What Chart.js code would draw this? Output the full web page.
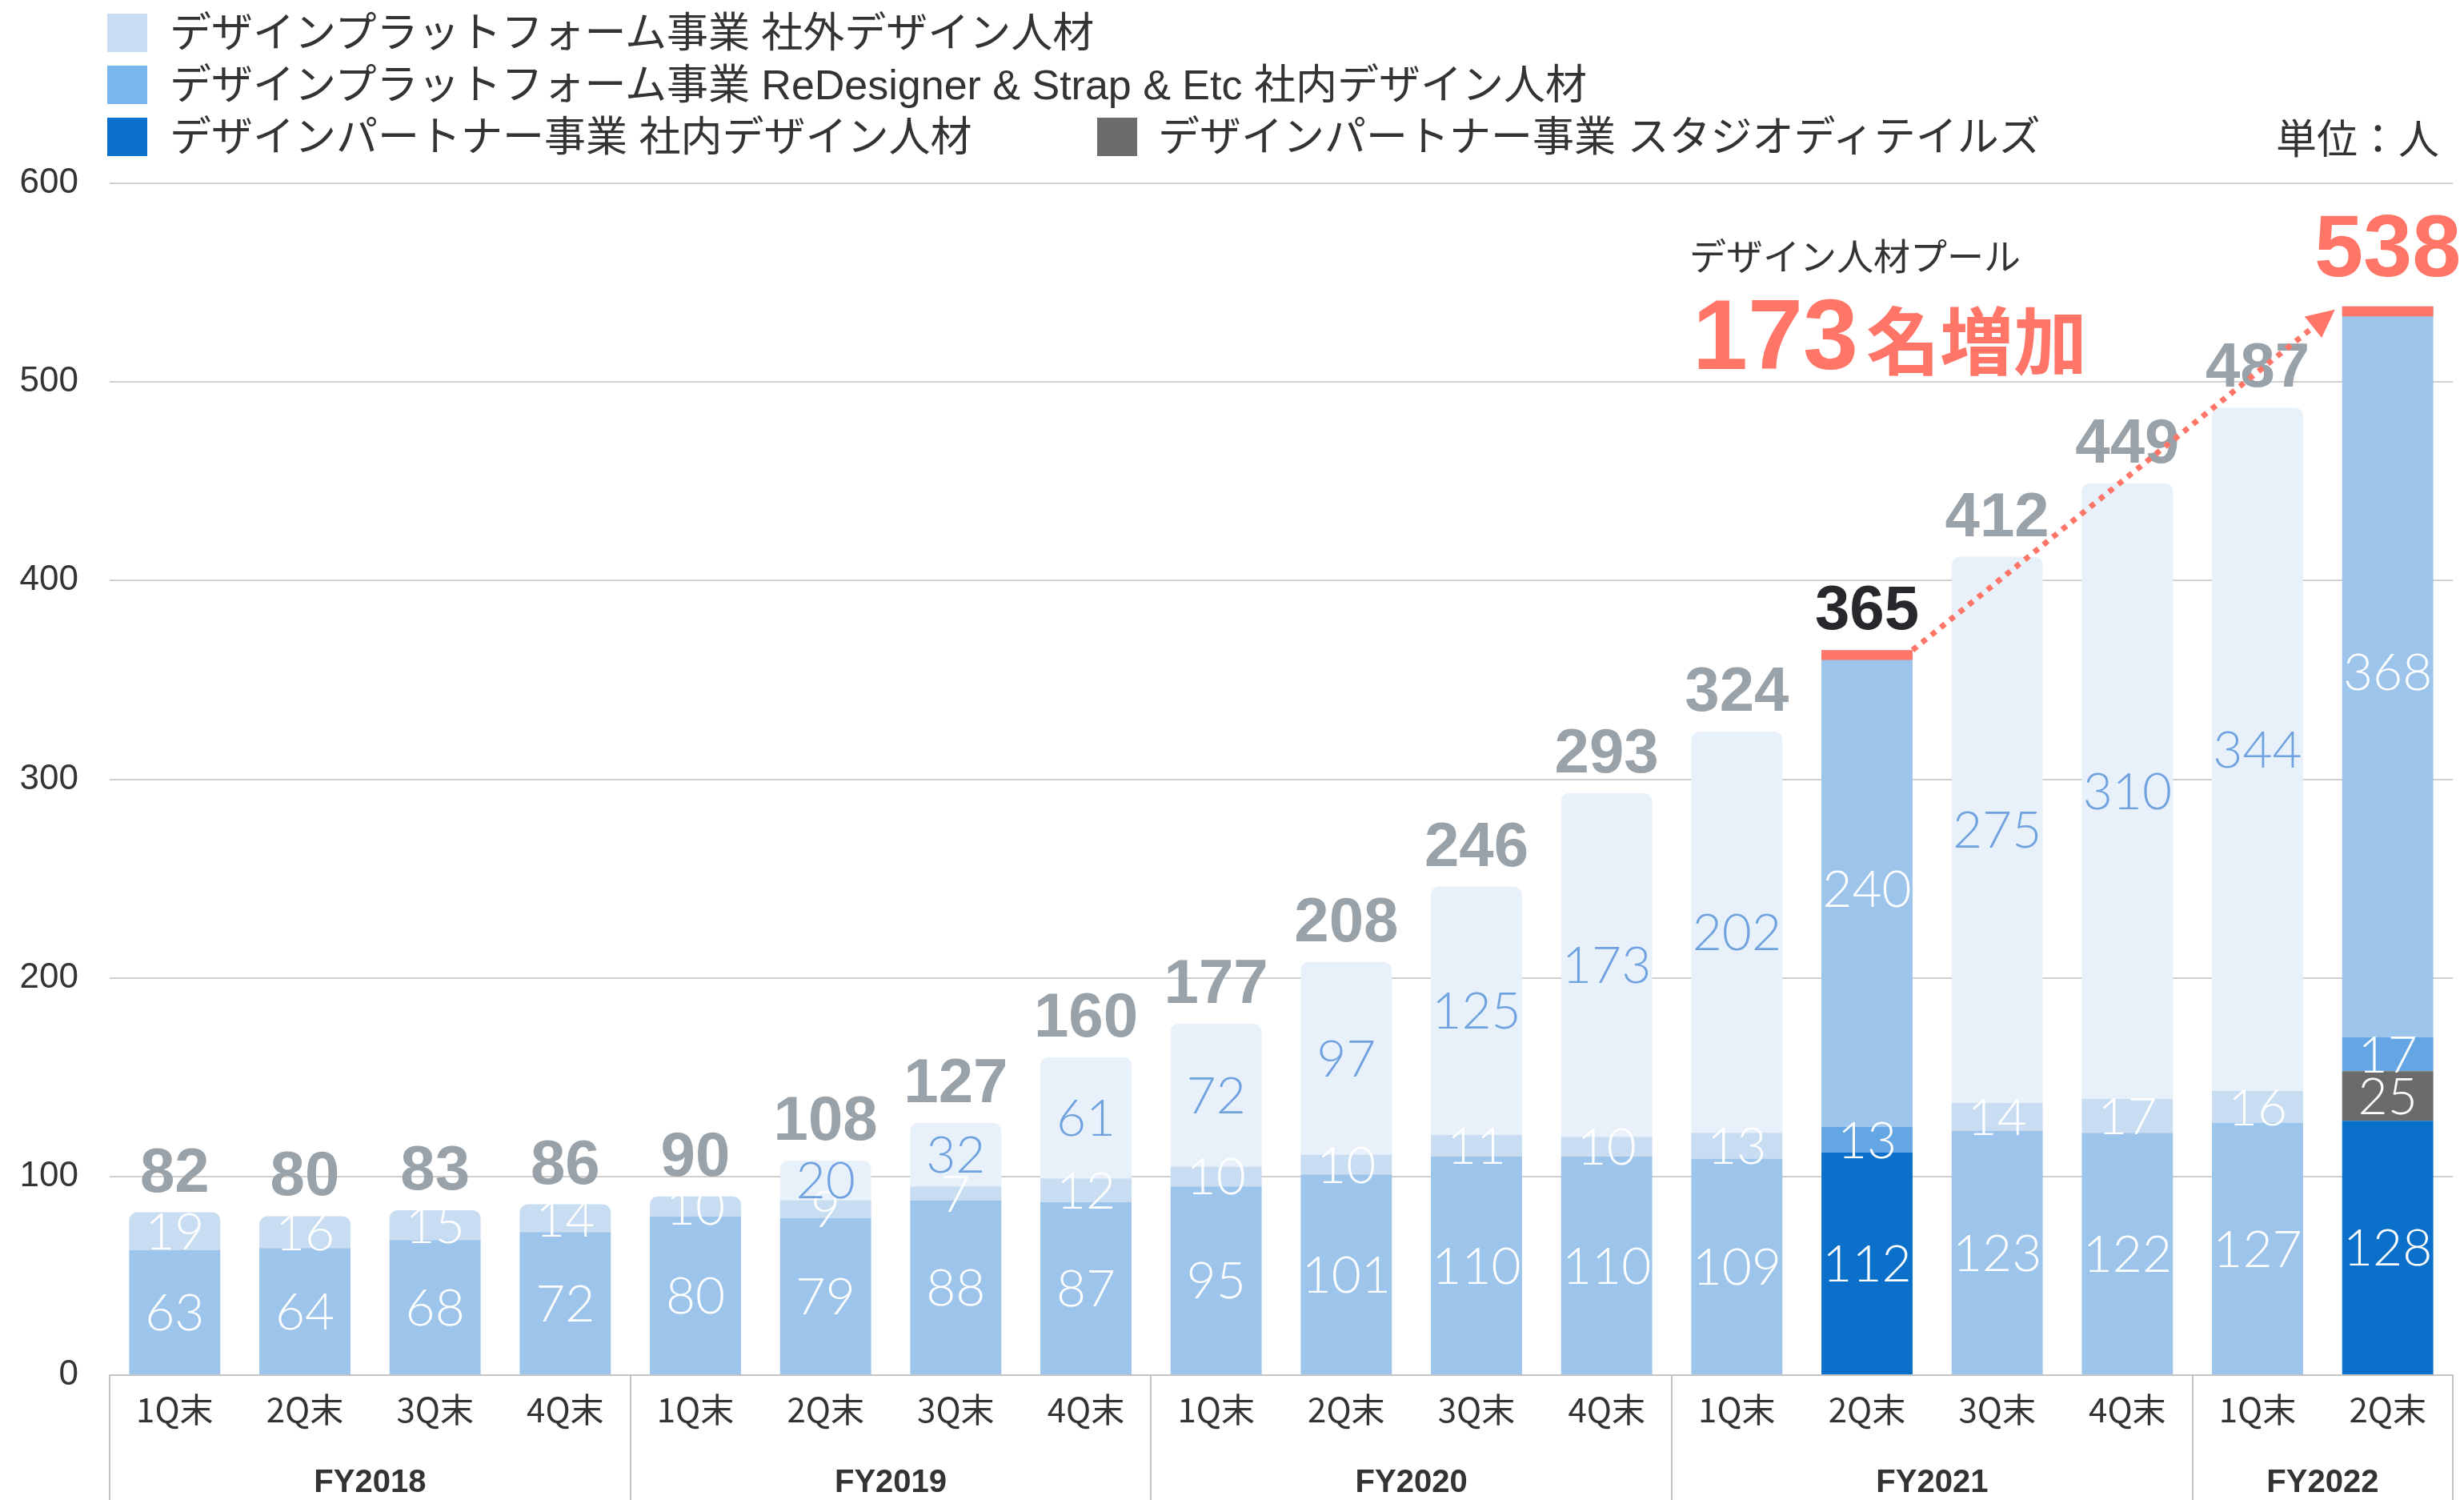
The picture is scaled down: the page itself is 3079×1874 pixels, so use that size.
<!DOCTYPE html>
<html>
<head>
<meta charset="utf-8">
<script src="https://cdn.jsdelivr.net/npm/chart.js@4.4.1/dist/chart.umd.min.js"></script>
<style>
html,body{margin:0;padding:0;background:#fff;}
#wrap{position:relative;width:3079px;height:1874px;overflow:hidden;font-family:"Noto Sans CJK JP","Noto Sans",sans-serif;color:#333;}
#wrap canvas{position:absolute;left:0;top:0;}
.lg{position:absolute;display:flex;align-items:center;height:48px;font-size:52px;line-height:1;white-space:nowrap;color:#333;font-family:"Liberation Sans","Noto Sans CJK JP",sans-serif;}
.lg span{font-family:"Liberation Sans","Noto Sans CJK JP",sans-serif;}
.sw{width:50px;height:48px;margin-right:28px;flex:none;}
#unit{position:absolute;right:31px;top:146px;height:48px;display:flex;align-items:center;font-size:51px;line-height:1;color:#333;}
#poolTitle{position:absolute;left:2111px;top:294px;font-size:46px;line-height:1;color:#333;white-space:nowrap;}
#poolInc{position:absolute;left:2115px;top:356px;display:flex;align-items:baseline;line-height:1;color:#ff7668;white-space:nowrap;}
#poolInc .num{font-family:"Liberation Sans",Arial,sans-serif;font-weight:bold;font-size:124px;}
#poolInc .txt{font-family:"Noto Sans CJK JP",sans-serif;font-weight:bold;font-size:92px;margin-left:10px;}
</style>
</head>
<body>
<div id="wrap">
  <canvas id="c" width="3079" height="1874"></canvas>
  <div class="lg" style="left:134px;top:17px;"><div class="sw" style="background:#c8ddf1"></div><span>デザインプラットフォーム事業 社外デザイン人材</span></div>
  <div class="lg" style="left:134px;top:82px;"><div class="sw" style="background:#7ab6ee"></div><span>デザインプラットフォーム事業 ReDesigner &amp; Strap &amp; Etc 社内デザイン人材</span></div>
  <div class="lg" style="left:134px;top:147px;"><div class="sw" style="background:#0a70c9"></div><span>デザインパートナー事業 社内デザイン人材</span></div>
  <div class="lg" style="left:1371px;top:147px;"><div class="sw" style="background:#6b6b6b;margin-right:26px"></div><span>デザインパートナー事業 スタジオディテイルズ</span></div>
  <div id="unit">単位：人</div>
  <div id="poolTitle">デザイン人材プール</div>
  <div id="poolInc"><span class="num">173</span><span class="txt">名増加</span></div>
</div>
<script>
// ---- data ----
const categories = ['1Q末','2Q末','3Q末','4Q末','1Q末','2Q末','3Q末','4Q末','1Q末','2Q末','3Q末','4Q末','1Q末','2Q末','3Q末','4Q末','1Q末','2Q末'];
const fiscalYears = ['FY2018','FY2019','FY2020','FY2021','FY2022'];
const quartersPerYear = [4,4,4,4,2];
const partnerInHouse   = [63,64,68,72,80,79,88,87,95,101,110,110,109,112,123,122,127,128];
const studioDetails    = [null,null,null,null,null,null,null,null,null,null,null,null,null,null,null,null,null,25];
const platformInHouse  = [19,16,15,14,10,9,7,12,10,10,11,10,13,13,14,17,16,17];
const platformExternal = [null,null,null,null,null,20,32,61,72,97,125,173,202,240,275,310,344,368];
const totals           = [82,80,83,86,90,108,127,160,177,208,246,293,324,365,412,449,487,538];
const compareFrom = 13;   // 2Q末 FY2021
const compareTo = 17;     // 2Q末 FY2022
const capDepth = 5;

const isHi = i => i === compareFrom || i === compareTo;
const capBars = totals.map((t, i) => isHi(i) ? [t - capDepth, t] : null);

const segSets = [partnerInHouse, studioDetails, platformInHouse, platformExternal];
function topSetIndex(i) {
  let top = -1;
  segSets.forEach((s, k) => { if (s[i] != null) top = k; });
  return top;
}
function radiusFor(k) {
  return ctx => {
    const i = ctx.dataIndex;
    if (!isHi(i) && topSetIndex(i) === k) return {topLeft: 10, topRight: 10, bottomLeft: 0, bottomRight: 0};
    return 0;
  };
}

const C = {
  base: '#9dc4ea', dark: '#0a70c9', gray: '#6b6b6b',
  light: '#c8ddf1', mid: '#64a5e3', pale: '#e8f1fa', red: '#ff7668'
};

const datasets = [
  { label: 'cap', data: capBars, stack: 'cap', backgroundColor: C.red, borderRadius: 0 },
  { label: 'デザインパートナー事業 社内デザイン人材', data: partnerInHouse, stack: 'pool',
    backgroundColor: partnerInHouse.map((v, i) => isHi(i) ? C.dark : C.base), borderRadius: radiusFor(0),
    labelColor: () => '#ffffff' },
  { label: 'デザインパートナー事業 スタジオディテイルズ', data: studioDetails, stack: 'pool',
    backgroundColor: C.gray, borderRadius: radiusFor(1), labelColor: () => '#ffffff' },
  { label: 'デザインプラットフォーム事業 ReDesigner & Strap & Etc 社内デザイン人材', data: platformInHouse, stack: 'pool',
    backgroundColor: platformInHouse.map((v, i) => isHi(i) ? C.mid : C.light), borderRadius: radiusFor(2),
    labelColor: () => '#ffffff' },
  { label: 'デザインプラットフォーム事業 社外デザイン人材', data: platformExternal, stack: 'pool',
    backgroundColor: platformExternal.map((v, i) => isHi(i) ? C.base : C.pale), borderRadius: radiusFor(3),
    labelColor: i => isHi(i) ? '#ffffff' : '#6fa2df' }
];

const NUMFONT = '"Liberation Sans", Arial, sans-serif';
const SEGFONT = '300 64px Lato, "Liberation Sans", sans-serif';

const labelPlugin = {
  id: 'valueLabels',
  afterDatasetsDraw(chart) {
    const ctx = chart.ctx;
    const y = chart.scales.y;
    ctx.save();
    ctx.textAlign = 'center';
    ctx.textBaseline = 'middle';
    for (let di = 1; di < chart.data.datasets.length; di++) {
      const ds = chart.data.datasets[di];
      const meta = chart.getDatasetMeta(di);
      meta.data.forEach((el, i) => {
        const v = ds.data[i];
        if (v == null) return;
        ctx.fillStyle = ds.labelColor(i);
        ctx.font = SEGFONT;
        ctx.fillText(String(v), el.x, (el.y + el.base) / 2 + 2);
      });
    }
    ctx.textBaseline = 'alphabetic';
    const ref = chart.getDatasetMeta(1);
    totals.forEach((t, i) => {
      const el = ref.data[i];
      const py = y.getPixelForValue(t);
      if (i === compareTo) {
        ctx.fillStyle = C.red; ctx.font = 'bold 110px ' + NUMFONT;
        ctx.fillText(String(t), el.x, py - 38);
      } else {
        ctx.fillStyle = i === compareFrom ? '#26282b' : '#99a1a9';
        ctx.font = 'bold 78px ' + NUMFONT;
        ctx.fillText(String(t), el.x, py - 26);
      }
    });
    // dotted arrow between the compared bars
    const a = ref.data[compareFrom], b = ref.data[compareTo];
    const x0 = a.x + a.width / 2, y0 = y.getPixelForValue(totals[compareFrom]);
    const x1 = b.x - b.width / 2 - 9, y1 = y.getPixelForValue(totals[compareTo]) + 4;
    const dx = x1 - x0, dy = y1 - y0, len = Math.hypot(dx, dy);
    const ux = dx / len, uy = dy / len;
    const headL = 35, headW = 17;
    const bx = x1 - ux * headL, by = y1 - uy * headL;
    ctx.strokeStyle = C.red; ctx.fillStyle = C.red;
    ctx.lineWidth = 7; ctx.setLineDash([7, 8]); ctx.lineCap = 'butt';
    ctx.beginPath(); ctx.moveTo(x0, y0); ctx.lineTo(bx + ux * 4, by + uy * 4); ctx.stroke();
    ctx.setLineDash([]);
    ctx.beginPath();
    ctx.moveTo(x1, y1);
    ctx.lineTo(bx - uy * headW, by + ux * headW);
    ctx.lineTo(bx + uy * headW, by - ux * headW);
    ctx.closePath(); ctx.fill();
    ctx.restore();
  },
  afterDraw(chart) {
    const {ctx, chartArea} = chart;
    const x = chart.scales.x;
    const half = (x.getPixelForValue(1) - x.getPixelForValue(0)) / 2;
    ctx.save();
    ctx.strokeStyle = '#c4c4c4'; ctx.lineWidth = 2;
    ctx.fillStyle = '#333'; ctx.font = 'bold 40px ' + NUMFONT;
    ctx.textAlign = 'center'; ctx.textBaseline = 'middle';
    let start = 0;
    const edges = new Set();
    quartersPerYear.forEach((n, g) => {
      const left = x.getPixelForValue(start) - half;
      const right = x.getPixelForValue(start + n - 1) + half;
      edges.add(Math.round(left)); edges.add(Math.round(right));
      ctx.fillText(fiscalYears[g], (left + right) / 2, 1853);
      start += n;
    });
    edges.forEach(ex => {
      ctx.beginPath(); ctx.moveTo(ex, chartArea.bottom); ctx.lineTo(ex, chart.height); ctx.stroke();
    });
    ctx.restore();
  }
};

new Chart(document.getElementById('c'), {
  type: 'bar',
  data: { labels: categories, datasets },
  options: {
    responsive: false,
    animation: false,
    devicePixelRatio: 1,
    layout: { padding: { top: 229, right: 14, bottom: 0, left: 0 } },
    datasets: { bar: { barPercentage: 0.7, categoryPercentage: 1.0, borderSkipped: 'start', grouped: false } },
    plugins: { legend: { display: false }, tooltip: { enabled: false }, title: { display: false } },
    scales: {
      x: {
        stacked: true, offset: true,
        grid: { display: false, drawTicks: false },
        border: { display: true, color: '#c4c4c4', width: 2 },
        ticks: { color: '#333', font: { size: 42, family: '"Noto Sans CJK JP", sans-serif' }, padding: 18, autoSkip: false, maxRotation: 0 },
        afterFit(s) { s.height = 156; }
      },
      y: {
        stacked: true, min: 0, max: 600,
        ticks: { stepSize: 100, padding: 39, color: '#333', font: { size: 44, family: NUMFONT } },
        grid: { color: '#d0d0d0', lineWidth: 2, drawTicks: false },
        border: { display: false },
        afterFit(s) { s.width = 137; }
      }
    }
  },
  plugins: [labelPlugin]
});
</script>
</body>
</html>
